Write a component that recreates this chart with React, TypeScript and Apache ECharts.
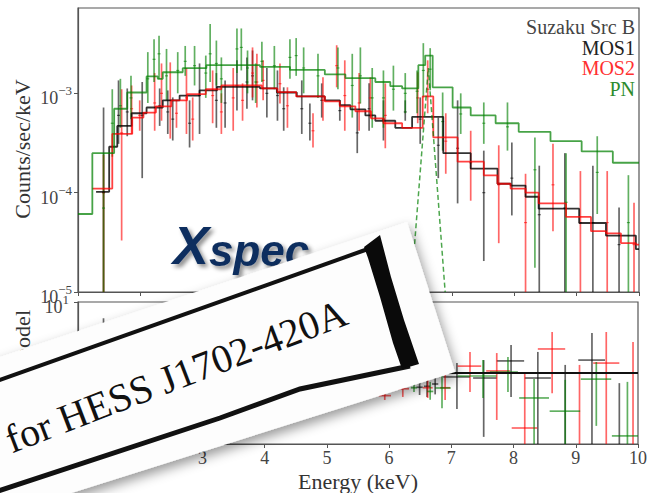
import React, { useEffect, useRef } from "react";
import * as echarts from "echarts";

// ---------- data ----------
const energyTicks = [1, 2, 3, 4, 5, 6, 7, 8, 9, 10];

// folded model steps (bin edges in keV, counts/sec/keV)
const pnEdges = [1.0, 1.23, 1.58, 1.79, 2.10, 2.28, 2.36, 2.68, 3.06, 3.92, 4.40, 4.96, 5.29, 5.77, 6.01, 6.20, 6.46, 6.57, 6.69, 7.01, 7.30, 7.70, 8.07, 8.58, 9.08, 9.58, 10.0];
const pnModel = [6.1e-5, 2.5e-4, 7.0e-4, 1.02e-3, 1.48e-3, 1.40e-3, 1.63e-3, 1.79e-3, 1.92e-3, 1.85e-3, 1.72e-3, 1.55e-3, 1.42e-3, 1.30e-3, 1.18e-3, 1.12e-3, 1.92e-3, 2.4e-3, 1.15e-3, 7.2e-4, 6.0e-4, 5.0e-4, 4.1e-4, 3.3e-4, 2.6e-4, 2.0e-4];

const mos1Edges = [1.29, 1.50, 1.63, 1.86, 2.10, 2.36, 2.63, 2.95, 3.23, 3.92, 4.19, 4.51, 4.96, 5.20, 5.37, 5.61, 5.77, 6.09, 6.36, 6.86, 7.30, 7.73, 7.94, 8.18, 8.39, 9.04, 9.47, 9.95, 10.0];
const mos1Model = [1.02e-4, 2.9e-4, 4.7e-4, 6.3e-4, 7.2e-4, 8.5e-4, 9.5e-4, 1.07e-3, 1.16e-3, 1.12e-3, 1.02e-3, 9.3e-4, 8.5e-4, 7.6e-4, 6.9e-4, 6.0e-4, 5.3e-4, 4.5e-4, 5.8e-4, 2.5e-4, 1.75e-4, 1.23e-4, 1.18e-4, 9.1e-5, 6.9e-5, 4.95e-5, 3.7e-5, 2.7e-5];

const mos2Edges = [1.23, 1.55, 1.87, 2.05, 2.25, 2.50, 2.75, 3.05, 3.30, 3.95, 4.20, 4.50, 4.96, 5.20, 5.45, 5.70, 5.90, 6.20, 6.53, 6.70, 7.09, 7.51, 7.73, 7.94, 8.18, 8.39, 8.83, 9.23, 9.47, 9.71, 9.95, 10.0];
const mos2Model = [1.1e-4, 3.9e-4, 5.7e-4, 6.4e-4, 7.4e-4, 8.5e-4, 9.8e-4, 1.1e-3, 1.2e-3, 1.12e-3, 1.03e-3, 9.3e-4, 8.3e-4, 7.4e-4, 6.6e-4, 5.6e-4, 5.0e-4, 4.5e-4, 9.3e-4, 3.6e-4, 2.05e-4, 1.49e-4, 1.23e-4, 1.1e-4, 1.0e-4, 7.8e-5, 5.7e-5, 4.1e-5, 3.9e-5, 3.1e-5, 3.0e-5];

// PN Fe-line gaussian component (dashed)
const gaussE = [6.34, 6.62, 6.89];
const gaussV = [1e-5, 1.8e-3, 1e-5];

// data points with error bars (upper panel)
const pnE = [1.41, 1.55, 1.68, 1.85, 2.12, 2.22, 2.30, 2.42, 2.60, 2.72, 2.87, 3.05, 3.12, 3.22, 3.30, 3.55, 3.62, 3.72, 3.85, 3.95, 4.15, 4.40, 4.50, 4.62, 4.85, 5.17, 5.40, 5.53, 5.72, 5.90, 6.06, 6.25, 6.44, 6.54, 6.65, 6.85, 7.14, 7.51, 7.89, 8.33, 8.83, 9.33, 9.83];
const pnVal = [7e-5, 5e-4, 7.5e-4, 9e-4, 1.4e-3, 2.2e-3, 2.5e-3, 1.5e-3, 1.7e-3, 2.1e-3, 1.9e-3, 1.6e-3, 2.5e-3, 2.0e-3, 1.4e-3, 2.8e-3, 2.9e-3, 1.8e-3, 1.3e-3, 2.1e-3, 1.9e-3, 2.3e-3, 2.4e-3, 1.8e-3, 1.5e-3, 1.8e-3, 1.2e-3, 1.5e-3, 9e-4, 9e-4, 1.1e-3, 1.0e-3, 1.05e-3, 1.7e-3, 1.75e-3, 5.2e-4, 6.2e-4, 5e-4, 4.6e-4, 1.7e-4, 8e-5, 1.6e-4, 5e-5];
const pnLo = [5e-6, 2.3e-4, 4.5e-4, 5.5e-4, 8e-4, 1.3e-3, 1.4e-3, 8.5e-4, 1.0e-3, 1.5e-3, 1.2e-3, 9e-4, 1.3e-3, 1.2e-3, 8e-4, 1.6e-3, 1.7e-3, 1.0e-3, 8e-4, 1.3e-3, 1.1e-3, 1.4e-3, 1.5e-3, 1.0e-3, 9e-4, 1.1e-3, 5.7e-4, 7.9e-4, 4.5e-4, 4.5e-4, 6.7e-4, 6.3e-4, 6.3e-4, 9.1e-4, 1.07e-3, 2.65e-4, 3.9e-4, 3.1e-4, 2.65e-4, 1.75e-5, 5e-6, 6.1e-5, 5e-6];
const pnHi = [2.5e-4, 1.1e-3, 1.4e-3, 1.5e-3, 2.6e-3, 3.5e-3, 3.8e-3, 2.8e-3, 2.6e-3, 3.0e-3, 3.0e-3, 2.4e-3, 5.0e-3, 3.4e-3, 2.3e-3, 4.5e-3, 4.5e-3, 2.7e-3, 2.0e-3, 3.3e-3, 3.0e-3, 3.5e-3, 3.6e-3, 2.9e-3, 2.5e-3, 2.9e-3, 2.5e-3, 2.9e-3, 1.8e-3, 1.7e-3, 1.9e-3, 1.6e-3, 1.7e-3, 3.2e-3, 2.85e-3, 1.02e-3, 1.0e-3, 8.1e-4, 8.1e-4, 3.6e-4, 2.5e-4, 3.7e-4, 1.5e-4];

const mos1E = [1.41, 1.65, 1.79, 2.03, 2.31, 2.44, 2.52, 2.79, 2.95, 3.22, 3.36, 3.55, 3.71, 3.80, 4.03, 4.20, 4.30, 4.59, 4.72, 4.91, 5.20, 5.48, 5.67, 5.90, 6.25, 6.49, 6.78, 7.09, 7.51, 7.96, 8.40, 8.81, 9.26, 9.68];
const mos1Val = [1.0e-4, 6e-4, 6.5e-4, 6e-4, 7.5e-4, 6.5e-4, 5.5e-4, 5e-4, 9.5e-4, 8.5e-4, 8e-4, 1.2e-3, 1.3e-3, 1.5e-3, 1.0e-3, 9.5e-4, 7e-4, 7e-4, 5e-4, 8.5e-4, 6.7e-4, 4e-4, 7e-4, 5.5e-4, 6.5e-4, 5.5e-4, 3e-4, 2.8e-4, 1.0e-4, 1.4e-4, 6e-5, 7e-5, 5e-5, 3e-5];
const mos1Lo = [5e-6, 3.1e-4, 3.7e-4, 1.4e-4, 4.7e-4, 3.9e-4, 3.35e-4, 2.85e-4, 3.9e-4, 4.5e-4, 4.5e-4, 6.7e-4, 7.0e-4, 8.5e-4, 5.7e-4, 5.3e-4, 4.2e-4, 3.9e-4, 3.35e-4, 5.7e-4, 5.3e-4, 2.5e-4, 4.2e-4, 3.35e-4, 5.3e-4, 3.1e-4, 1.4e-4, 7.8e-5, 2.05e-5, 5.9e-5, 5e-6, 5e-6, 5e-6, 5e-6];
const mos1Hi = [7.2e-4, 1.35e-3, 1.12e-3, 1.3e-3, 1.12e-3, 1.07e-3, 9.1e-4, 8.5e-4, 2.0e-3, 1.6e-3, 1.35e-3, 2.15e-3, 2.3e-3, 2.7e-3, 1.8e-3, 1.7e-3, 1.15e-3, 1.35e-3, 7.9e-4, 1.26e-3, 8.5e-4, 6.7e-4, 1.26e-3, 8.5e-4, 8.5e-4, 9.1e-4, 5.7e-4, 8.5e-4, 2.65e-4, 3.2e-4, 1.87e-4, 2.5e-4, 1.87e-4, 7.1e-5];

const mos2E = [1.41, 1.70, 1.86, 1.99, 2.23, 2.34, 2.48, 2.58, 2.74, 2.84, 3.16, 3.30, 3.49, 3.64, 3.80, 3.87, 3.97, 4.24, 4.36, 4.77, 4.93, 5.15, 5.28, 5.51, 5.69, 5.93, 6.45, 6.61, 6.90, 7.30, 7.75, 8.18, 8.62, 9.06, 9.49, 9.92];
const mos2Val = [1e-4, 4e-4, 7e-4, 6e-4, 8e-4, 1.0e-3, 8.5e-4, 6.3e-4, 9e-4, 5.5e-4, 9.5e-4, 6.5e-4, 9e-4, 8.5e-4, 1.6e-3, 1.3e-3, 1.35e-3, 1.25e-3, 7.5e-4, 4.2e-4, 8.5e-4, 1.9e-3, 9.5e-4, 8e-4, 9e-4, 6e-4, 9e-4, 1.1e-3, 3.3e-4, 2e-4, 1.2e-4, 5e-5, 1.2e-4, 5e-5, 5e-5, 3e-5];
const mos2Lo = [5e-6, 3.3e-5, 3.9e-4, 4.2e-4, 4.2e-4, 5.3e-4, 3.5e-4, 4.5e-4, 3.9e-4, 3.35e-4, 5e-4, 3.9e-4, 4.2e-4, 5.3e-4, 9.1e-4, 7.2e-4, 8.5e-4, 7.9e-4, 4.5e-4, 2.85e-4, 5.3e-4, 1.15e-3, 4.2e-4, 4.2e-4, 5.7e-4, 2.8e-4, 5e-4, 6.3e-4, 1.55e-4, 8.3e-5, 3.1e-5, 5e-6, 4.1e-5, 5e-6, 5e-6, 5e-6];
const mos2Hi = [2.4e-4, 1.1e-3, 1.2e-3, 8.5e-4, 1.6e-3, 2.0e-3, 2.05e-3, 8.5e-4, 1.8e-3, 9.1e-4, 1.7e-3, 1.0e-3, 1.8e-3, 1.26e-3, 2.9e-3, 2.5e-3, 2.15e-3, 2.0e-3, 1.15e-3, 6.3e-4, 1.45e-3, 3.05e-3, 2.15e-3, 1.6e-3, 1.45e-3, 1.26e-3, 1.63e-3, 2.15e-3, 6.3e-4, 4.2e-4, 3.0e-4, 1.55e-4, 3.1e-4, 1.65e-4, 1.65e-4, 7.9e-5];

// ratio panel (data/model): centre, bin low, bin high, ratio, low, high
const ratio1E = [1.41, 6.49, 6.61, 6.74, 7.09, 7.52, 7.96, 8.39, 8.83, 9.26, 9.70];
const ratio1E0 = [1.30, 6.44, 6.56, 6.69, 6.87, 7.35, 7.73, 8.18, 8.60, 9.04, 9.47];
const ratio1E1 = [1.50, 6.54, 6.66, 6.79, 7.30, 7.73, 8.17, 8.60, 9.04, 9.47, 9.92];
const ratio1R = [0.98, 0.63, 0.65, 0.7, 0.88, 0.85, 1.48, 0.85, 0.06, 1.52, 0.08];
const ratio1Lo = [0.01, 0.49, 0.46, 0.5, 0.31, 0.126, 0.46, 0.01, 0.01, 0.01, 0.01];
const ratio1Hi = [5.9, 0.8, 0.88, 1.0, 1.38, 1.52, 2.48, 1.98, 1.30, 3.66, 0.72];

const ratio2E = [5.93, 6.22, 6.62, 6.90, 7.30, 7.73, 8.18, 8.62, 9.06, 9.49, 9.92];
const ratio2E0 = [5.83, 6.12, 6.54, 6.82, 7.10, 7.56, 7.97, 8.39, 8.85, 9.28, 9.70];
const ratio2E1 = [6.03, 6.32, 6.70, 6.98, 7.48, 7.94, 8.38, 8.83, 9.27, 9.70, 10.1];
const ratio2R = [0.48, 0.6, 0.62, 0.62, 1.25, 1.07, 0.168, 2.18, 0.05, 1.38, 0.05];
const ratio2Lo = [0.417, 0.46, 0.445, 0.417, 0.54, 0.218, 0.01, 0.52, 0.01, 0.01, 0.01];
const ratio2Hi = [0.58, 0.85, 0.85, 1.1, 1.98, 1.91, 1.03, 3.78, 1.30, 3.78, 2.73];

const ratio3E = [6.40, 6.66, 6.85, 7.51, 7.91, 8.33, 8.83, 9.33, 9.83];
const ratio3E0 = [6.35, 6.61, 6.74, 7.10, 7.62, 8.09, 8.58, 9.08, 9.58];
const ratio3E1 = [6.45, 6.71, 6.99, 7.73, 8.07, 8.57, 9.07, 9.57, 10.0];
const ratio3R = [0.62, 0.55, 0.615, 0.907, 1.03, 0.445, 0.29, 0.82, 0.13];
const ratio3Lo = [0.54, 0.42, 0.32, 0.445, 0.54, 0.01, 0.01, 0.18, 0.01];
const ratio3Hi = [0.72, 0.75, 1.0, 1.52, 1.68, 0.82, 0.80, 1.43, 0.75];

const unityLine = [[1, 1], [10, 1]];

const legendTitle = "Suzaku Src B";
const legendNames = ["MOS1", "MOS2", "PN"];
const bannerText = "for HESS J1702-420A";

// ---------- helpers ----------
const SERIF = '"Liberation Serif", "Times New Roman", serif';
const SANS = '"Liberation Sans", Arial, sans-serif';
const C_BLACK = "rgba(0,0,0,0.6)";
const C_RED = "rgba(255,0,0,0.6)";
const C_GREEN = "rgba(0,128,0,0.62)";
const NAVY = "#0f2f5e";

function steps(edges: number[], vals: number[]) {
  const pts: number[][] = [];
  for (let i = 0; i < vals.length; i++) {
    pts.push([edges[i], vals[i]]);
    pts.push([edges[i + 1], vals[i]]);
  }
  return pts;
}

function zipBars(e: number[], v: number[], lo: number[], hi: number[]) {
  return e.map((x, i) => [x, v[i], lo[i], hi[i]]);
}

function zipCross(e: number[], e0: number[], e1: number[], r: number[], lo: number[], hi: number[]) {
  return e.map((x, i) => [x, e0[i], e1[i], r[i], lo[i], hi[i]]);
}

function barRender(color: string) {
  return (params: any, api: any) => {
    const cs = params.coordSys;
    const top = cs.y, bot = cs.y + cs.height;
    const cl = (y: number) => Math.max(top, Math.min(bot, y));
    const e = api.value(0);
    const pV = api.coord([e, api.value(1)]);
    const pLo = api.coord([e, api.value(2)]);
    const pHi = api.coord([e, api.value(3)]);
    const x = pV[0];
    const children: any[] = [
      { type: "line", shape: { x1: x, y1: cl(pHi[1]), x2: x, y2: cl(pLo[1]) }, style: { stroke: color, lineWidth: 1.7 } },
    ];
    if (pV[1] >= top && pV[1] <= bot) {
      children.push({ type: "line", shape: { x1: x - 1.5, y1: pV[1], x2: x + 1.5, y2: pV[1] }, style: { stroke: color, lineWidth: 1.2 } });
    }
    return { type: "group", children };
  };
}

function crossRender(color: string) {
  return (params: any, api: any) => {
    const cs = params.coordSys;
    const top = cs.y, bot = cs.y + cs.height, left = cs.x, right = cs.x + cs.width;
    const cl = (y: number) => Math.max(top, Math.min(bot, y));
    const e = api.value(0);
    const r = api.value(3);
    const p0 = api.coord([api.value(1), r]);
    const p1 = api.coord([api.value(2), r]);
    const pLo = api.coord([e, api.value(4)]);
    const pHi = api.coord([e, api.value(5)]);
    const children: any[] = [
      { type: "line", shape: { x1: pLo[0], y1: cl(pHi[1]), x2: pLo[0], y2: cl(pLo[1]) }, style: { stroke: color, lineWidth: 1.7 } },
    ];
    if (p0[1] >= top && p0[1] <= bot) {
      children.push({ type: "line", shape: { x1: Math.max(left, p0[0]), y1: p0[1], x2: Math.min(right, p1[0]), y2: p1[1] }, style: { stroke: color, lineWidth: 1.7 } });
    }
    return { type: "group", children };
  };
}

function powLabel(v: number) {
  const lg = Math.log10(v);
  const e = Math.round(lg);
  if (Math.abs(lg - e) > 1e-6) return "";
  return `{b|10}{s|${e < 0 ? "\u2212" : ""}${Math.abs(e)}}`;
}

const richPow = {
  b: { fontSize: 18, fontFamily: SERIF, color: "#444", padding: [5, 0, 0, 0], lineHeight: 18, verticalAlign: "top" },
  s: { fontSize: 13, fontFamily: SERIF, color: "#444", lineHeight: 13, verticalAlign: "top" },
};

const logoToken = {
  fontWeight: 900,
  fontStyle: "italic",
  fontFamily: SANS,
  fill: NAVY,
  color: NAVY,
  verticalAlign: "bottom",
  textShadowColor: "rgba(0,0,0,0.45)",
  textShadowBlur: 4,
  textShadowOffsetX: 3,
  textShadowOffsetY: 3,
};

export default function App() {
  const ref = useRef<HTMLDivElement>(null);
  useEffect(() => {
    document.body.style.margin = "0";
    if (!ref.current) return;
    const chart = echarts.init(ref.current, undefined, { renderer: "svg" });
    const axisLine = { show: true, lineStyle: { color: "#555", width: 1.2 } };
    const option: any = {
      animation: false,
      backgroundColor: "#fff",
      textStyle: { fontFamily: SERIF },
      grid: [
        { left: 78, top: 8, width: 561, height: 284, show: true, borderColor: "#555", borderWidth: 1.2, backgroundColor: "transparent" },
        { left: 78, top: 302, width: 561, height: 142, show: true, borderColor: "#555", borderWidth: 1.2, backgroundColor: "transparent" },
      ],
      xAxis: [
        { type: "value", gridIndex: 0, min: energyTicks[0], max: energyTicks[energyTicks.length - 1], interval: 1, axisLine, axisTick: { show: true, length: 4, lineStyle: { color: "#555" } }, axisLabel: { show: false }, splitLine: { show: false } },
        {
          type: "value", gridIndex: 1, min: energyTicks[0], max: energyTicks[energyTicks.length - 1], interval: 1, axisLine,
          axisTick: { show: true, length: 4, lineStyle: { color: "#555" } },
          axisLabel: { show: true, fontSize: 18, color: "#444", margin: 5, fontFamily: SERIF, showMinLabel: true, showMaxLabel: true },
          splitLine: { show: false },
          name: "Energy (keV)", nameLocation: "middle", nameGap: 26,
          nameTextStyle: { fontSize: 22, color: "#333", fontFamily: SERIF },
        },
      ],
      yAxis: [
        { type: "log", logBase: 10, gridIndex: 0, min: 1e-5, max: 7.23e-3, axisLine, axisTick: { show: true, length: 4, lineStyle: { color: "#555" } }, splitLine: { show: false },
          axisLabel: { formatter: powLabel, rich: richPow, margin: 6, showMaxLabel: false } },
        { type: "log", logBase: 10, gridIndex: 1, min: 0.1, max: 10, axisLine, axisTick: { show: true, length: 4, lineStyle: { color: "#555" } }, splitLine: { show: false },
          axisLabel: { formatter: powLabel, rich: richPow, margin: 9 } },
      ],
      series: [
        { type: "line", name: "MOS1 model", xAxisIndex: 0, yAxisIndex: 0, data: steps(mos1Edges, mos1Model), symbol: "none", lineStyle: { color: "rgba(0,0,0,0.8)", width: 1.8 }, silent: true, z: 3 },
        { type: "line", name: "MOS2 model", xAxisIndex: 0, yAxisIndex: 0, data: steps(mos2Edges, mos2Model), symbol: "none", lineStyle: { color: "rgba(255,0,0,0.75)", width: 1.8 }, silent: true, z: 3 },
        { type: "line", name: "PN model", xAxisIndex: 0, yAxisIndex: 0, data: steps(pnEdges, pnModel), symbol: "none", lineStyle: { color: "rgba(0,128,0,0.72)", width: 1.8 }, silent: true, z: 3 },
        { type: "line", name: "PN gaussian", xAxisIndex: 0, yAxisIndex: 0, data: gaussE.map((e, i) => [e, gaussV[i]]), symbol: "none", lineStyle: { color: "rgba(0,128,0,0.7)", width: 1.5, type: [5, 3] }, silent: true, z: 3 },
        { type: "custom", name: "MOS1", xAxisIndex: 0, yAxisIndex: 0, data: zipBars(mos1E, mos1Val, mos1Lo, mos1Hi), encode: { x: 0, y: 1 }, renderItem: barRender(C_BLACK), silent: true, z: 2 },
        { type: "custom", name: "MOS2", xAxisIndex: 0, yAxisIndex: 0, data: zipBars(mos2E, mos2Val, mos2Lo, mos2Hi), encode: { x: 0, y: 1 }, renderItem: barRender(C_RED), silent: true, z: 2 },
        { type: "custom", name: "PN", xAxisIndex: 0, yAxisIndex: 0, data: zipBars(pnE, pnVal, pnLo, pnHi), encode: { x: 0, y: 1 }, renderItem: barRender(C_GREEN), silent: true, z: 2 },
        { type: "custom", name: "MOS1 ratio", xAxisIndex: 1, yAxisIndex: 1, data: zipCross(ratio1E, ratio1E0, ratio1E1, ratio1R, ratio1Lo, ratio1Hi), encode: { x: 0, y: 3 }, renderItem: crossRender(C_BLACK), silent: true, z: 2 },
        { type: "custom", name: "MOS2 ratio", xAxisIndex: 1, yAxisIndex: 1, data: zipCross(ratio2E, ratio2E0, ratio2E1, ratio2R, ratio2Lo, ratio2Hi), encode: { x: 0, y: 3 }, renderItem: crossRender(C_RED), silent: true, z: 2 },
        { type: "custom", name: "PN ratio", xAxisIndex: 1, yAxisIndex: 1, data: zipCross(ratio3E, ratio3E0, ratio3E1, ratio3R, ratio3Lo, ratio3Hi), encode: { x: 0, y: 3 }, renderItem: crossRender(C_GREEN), silent: true, z: 2 },
        { type: "line", name: "unity", xAxisIndex: 1, yAxisIndex: 1, data: unityLine, symbol: "none", lineStyle: { color: "#111", width: 2.2 }, silent: true, z: 4 },
      ],
      graphic: [
        { type: "text", x: 22, y: 149, rotation: Math.PI / 2, z: 20, style: { text: "Counts/sec/keV", font: `22px ${SERIF}`, fill: "#333", textAlign: "center", textVerticalAlign: "middle" } },
        { type: "text", x: 22, y: 310, rotation: Math.PI / 2, z: 20, style: { text: "data/model", font: `22px ${SERIF}`, fill: "#333", textAlign: "right", textVerticalAlign: "middle" } },
        { type: "text", x: 635, y: 27, z: 20, style: { text: legendTitle, font: `20px ${SERIF}`, fill: "#444", textAlign: "right", textVerticalAlign: "middle" } },
        { type: "text", x: 635, y: 48, z: 20, style: { text: legendNames[0], font: `20px ${SERIF}`, fill: "#222", textAlign: "right", textVerticalAlign: "middle" } },
        { type: "text", x: 635, y: 68, z: 20, style: { text: legendNames[1], font: `20px ${SERIF}`, fill: "#ff3030", textAlign: "right", textVerticalAlign: "middle" } },
        { type: "text", x: 635, y: 89, z: 20, style: { text: legendNames[2], font: `20px ${SERIF}`, fill: "#2e8b2e", textAlign: "right", textVerticalAlign: "middle" } },
        {
          type: "text", x: 173, y: 272, z: 90,
          style: {
            text: "{a|X}{b|spec}", textAlign: "left", textVerticalAlign: "bottom", fill: NAVY,
            rich: {
              a: { ...logoToken, fontSize: 54 },
              b: { ...logoToken, fontSize: 44 },
            },
          },
        },
        { type: "polygon", z: 100, shape: { points: [[-30, 367], [407, 222], [455, 372], [-30, 525]] }, style: { fill: "#fdfdfd", shadowBlur: 12, shadowColor: "rgba(0,0,0,0.4)", shadowOffsetX: 3, shadowOffsetY: 5 } },
        { type: "polyline", z: 101, shape: { points: [[-20, 387], [368, 249]] }, style: { stroke: "#111", lineWidth: 4, fill: null } },
        { type: "polyline", z: 101, shape: { points: [[-20, 497], [220, 418], [300, 389], [410, 366]] }, style: { stroke: "#111", lineWidth: 5, fill: null } },
        { type: "polygon", z: 101, shape: { points: [[364, 247], [380, 235], [391, 277], [404, 320], [419, 364], [402, 369], [393, 343], [380, 297], [368, 258]] }, style: { fill: "#0a0a0a" } },
        { type: "text", x: 176, y: 376, rotation: (21 * Math.PI) / 180, z: 102, style: { text: bannerText, font: `40px ${SERIF}`, fill: "#111", textAlign: "center", textVerticalAlign: "middle" } },
      ],
    };
    chart.setOption(option);
    return () => chart.dispose();
  }, []);
  return <div ref={ref} style={{ width: 650, height: 493 }} />;
}
